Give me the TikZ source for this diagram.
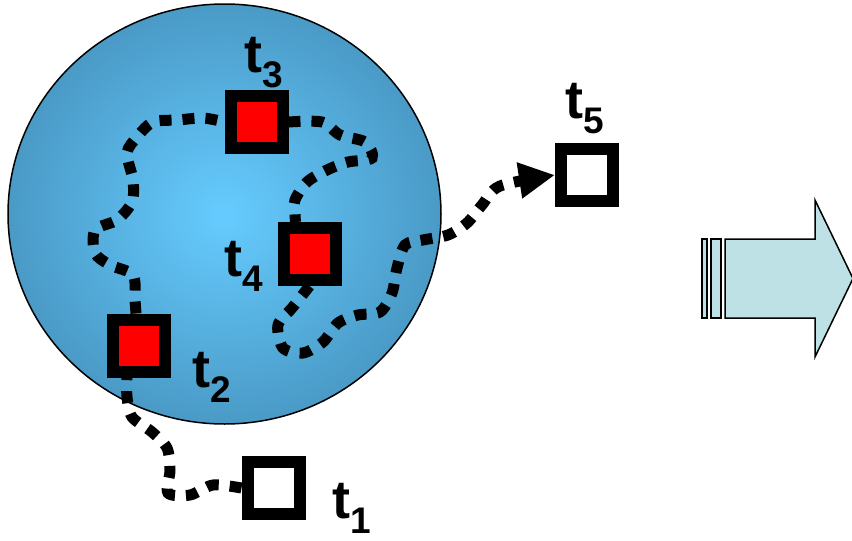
\documentclass[tikz,border=0pt]{standalone}
\usepackage{fontspec}
\setmainfont{Liberation Sans}
\usetikzlibrary{arrows.meta}
\definecolor{ballin}{HTML}{66CCFF}
\definecolor{ballout}{HTML}{4A9AC6}
\definecolor{arrfill}{HTML}{BDE1E4}
\newcommand{\tlab}[1]{\fontsize{54}{54}\selectfont\bfseries t\raisebox{-15pt}{\fontsize{37}{37}\selectfont #1}}
\begin{document}
\begin{tikzpicture}[x=1pt,y=-1pt,
 box/.style={draw=black,line width=12pt,minimum size=52pt,inner sep=0pt,fill=red},
 ebox/.style={box,fill=white},
 walk/.style={line width=11pt,dash pattern=on 12pt off 11pt},
 lab/.style={anchor=base west,inner sep=0pt},
 bigarrow/.style={draw=black,fill=arrfill,line width=1.5pt,line join=miter}]
\useasboundingbox (0,0) rectangle (852,541);
\shade[inner color=ballin,outer color=ballout,draw=black,line width=1.5pt] (224.5,214) ellipse [x radius=216.5pt,y radius=210pt];

\node[box] (t3) at (256.5,122) {};
\node[box] (t4) at (309.5,254) {};
\node[box] (t2) at (139,345.5) {};
\node[ebox] (t1) at (273.5,488) {};
\node[ebox] (t5) at (587,175) {};

\draw[walk] plot[smooth] coordinates {(t1.west) (213,485) (190,495) (168,493) (170,470) (167,448) (152,432) (132,417) (127,397) ([xshift=-12pt]t2.south)};
\draw[walk] plot[smooth] coordinates {([xshift=-3pt]t2.north) (135,300) (133,275) (110,265) (95,253) (95,230) (117,220) (132,202) (133,180) (127,153) (137,137) (153,122) (178,120) (203,118) (t3.west)};
\draw[walk] plot[smooth] coordinates {(t3.east) (322,122) (340,135) (365,142) (372,158) (348,162) (327,170) (307,182) (295,200) (295,214) ([xshift=-14pt]t4.north)};
\draw[walk,-{Triangle[length=36pt,width=34pt]}] plot[smooth] coordinates {(t4.south) (292,308) (278,325) (283,348) (303,353) (323,342) (338,323) (358,315) (380,312) (392,293) (397,268) (405,245) (423,240) (448,235) (467,223) (482,205) (500,186) (t5.west)};

\node[lab] (l3) at (244,72) {\tlab{3}};
\node[lab] (l4) at (224,276) {\tlab{4}};
\node[lab] (l2) at (192,387) {\tlab{2}};
\node[lab] (l1) at (332,518) {\tlab{1}};
\node[lab] (l5) at (565,118) {\tlab{5}};

\draw[bigarrow] (702,239) rectangle (707,318);
\draw[bigarrow] (711,239) rectangle (721,318);
\draw[bigarrow] (725,239) -- (815,239) -- (815,200) -- (853,278.5) -- (815,357) -- (815,318) -- (725,318) -- cycle;
\end{tikzpicture}
\end{document}
